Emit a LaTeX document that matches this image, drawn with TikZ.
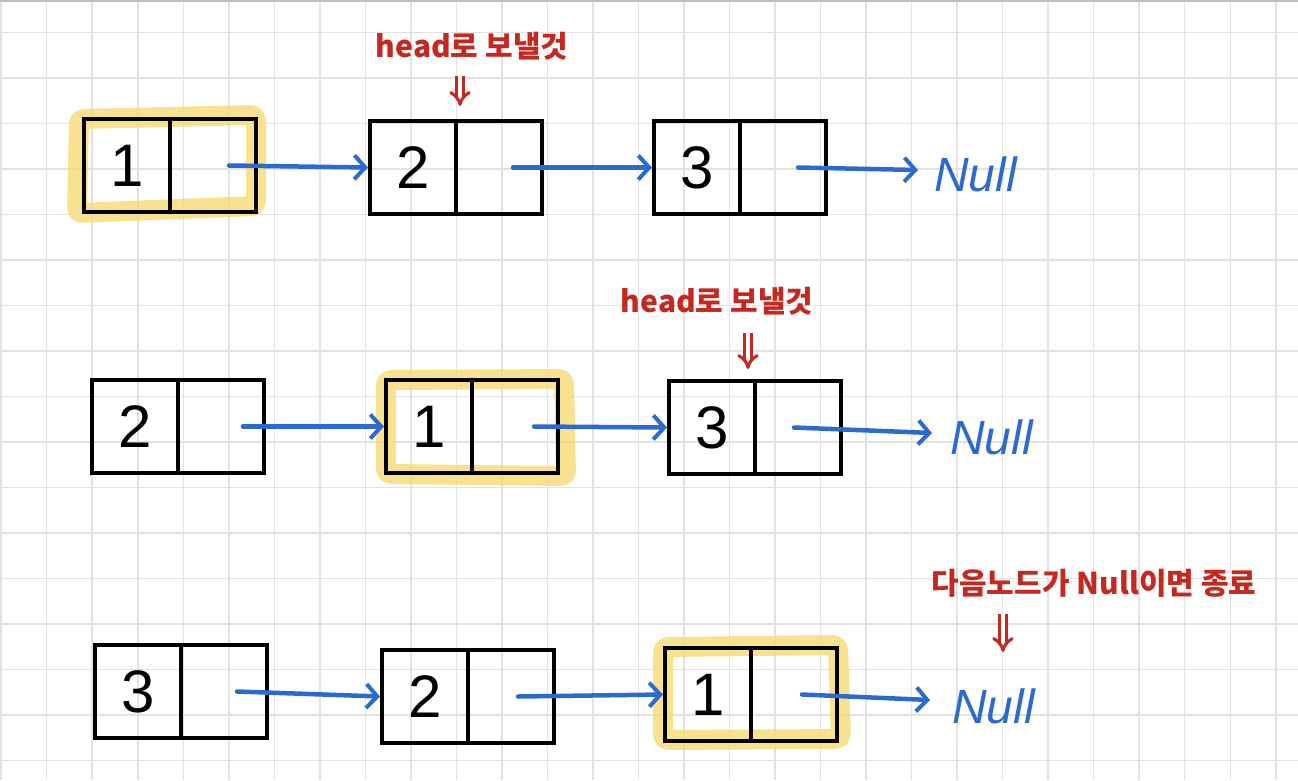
\documentclass[tikz,border=0pt]{standalone}
\usepackage{fontspec}
\setmainfont{Liberation Sans}
\newfontfamily\kr{Noto Sans CJK KR}
\usetikzlibrary{arrows.meta,calc}
\definecolor{gridc}{RGB}{226,226,226}
\definecolor{topc}{RGB}{190,190,190}
\definecolor{hl}{RGB}{247,219,115}
\definecolor{bl}{RGB}{44,106,208}
\definecolor{rd}{RGB}{196,40,30}
\begin{document}
\begin{tikzpicture}[x=1pt,y=-1pt,
  cell/.style={draw=black,line width=4pt,minimum width=86pt,minimum height=93pt,anchor=north west,inner sep=0pt,font=\fontsize{60}{60}\selectfont},
  link/.style={bl,line width=4.5pt,line cap=round,-{Straight Barb[length=11pt,width=24pt,line width=4pt]}},
  nul/.style={bl,anchor=west,inner sep=0pt,font=\itshape\fontsize{48}{48}\selectfont},
  lab/.style={rd,inner sep=0pt,font=\kr\bfseries\fontsize{30}{30}\selectfont},
  dbl/.style={rd,line width=3pt,double=white,double distance=4pt,-{Implies[length=9pt,width=22pt]}},
  hilite/.style={hl,line width=20pt,opacity=.8,rounded corners=5pt,line join=round}
]
\useasboundingbox (0,0) rectangle (1298,780);
% grid
\foreach \i in {0,...,28} \draw[gridc,line width=1.5pt] ({1.2+45.52*\i},0) -- ++(0,780);
\foreach \j in {0,...,16} \draw[gridc,line width=1.5pt] (0,{32.7+45.5*\j}) -- ++(1298,0);
\draw[topc,line width=2pt] (0,1) -- (1298,1);
% highlights
\draw[hilite] (79,119) -- (256,115) -- (256,206) -- (77,213) -- cycle;
\draw[hilite] (386,380) -- (564,379) -- (566,476) -- (386,474) -- cycle;
\draw[hilite] (663,647) -- (838,645) -- (841,739) -- (663,740) -- cycle;
% row 1
\node[cell] (a1) at (82,117) {1};
\node[cell] (b1) at (168,117) {};
\node[cell] (a2) at (368,119) {2};
\node[cell] (b2) at (454,119) {};
\node[cell] (a3) at (652,119) {3};
\node[cell] (b3) at (738,119) {};
\node[nul] (n1) at (934,174) {Null};
\draw[link] ($(b1.center)+(16,0)$) -- (a2.west);
\draw[link] ($(b2.center)+(14,0)$) -- (a3.west);
\draw[link] ($(b3.center)+(15,0)$) -- ($(n1.west)+(-16,-4)$);
\node[lab] (l1) at (472,46) {head로 보낼것};
\coordinate (d1) at (460,76);
\draw[dbl] (d1) -- (460,106);
% row 2
\node[cell] (c1) at (90,378) {2};
\node[cell] (e1) at (176,378) {};
\node[cell] (c2) at (384,378) {1};
\node[cell] (e2) at (470,378) {};
\node[cell] (c3) at (667,379) {3};
\node[cell] (e3) at (753,379) {};
\node[nul] (n2) at (950,437) {Null};
\draw[link] ($(e1.center)+(22,0)$) -- (c2.west);
\draw[link] ($(e2.center)+(19,0)$) -- (c3.west);
\draw[link] ($(e3.center)+(-4,0)$) -- ($(n2.west)+(-18,-4)$);
\node[lab] (l2) at (717,301) {head로 보낼것};
\coordinate (d2) at (748,333);
\draw[dbl] (d2) -- (748,369);
% row 3
\node[cell] (f1) at (93,643) {3};
\node[cell] (g1) at (179,643) {};
\node[cell] (f2) at (380,648) {2};
\node[cell] (g2) at (466,648) {};
\node[cell] (f3) at (663,646) {1};
\node[cell] (g3) at (749,646) {};
\node[nul] (n3) at (952,706) {Null};
\draw[link] ($(g1.center)+(13,0)$) -- (f2.west);
\draw[link] ($(g2.center)+(7,0)$) -- (f3.west);
\draw[link] ($(g3.center)+(8,0)$) -- ($(n3.west)+(-22,-6)$);
\node[lab] (l3) at (1094,583) {다음노드가 Null이면 종료};
\coordinate (d3) at (1003,614);
\draw[dbl] (d3) -- (1003,652);
\end{tikzpicture}
\end{document}
